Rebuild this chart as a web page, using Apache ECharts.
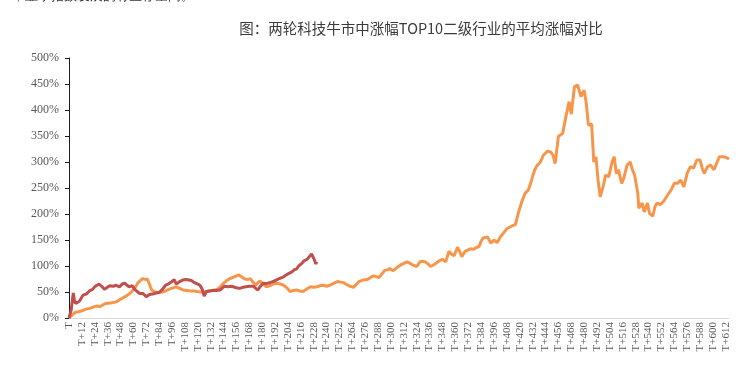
<!DOCTYPE html>
<html>
<head>
<meta charset="utf-8">
<script src="https://cdn.jsdelivr.net/npm/echarts@6/dist/echarts.min.js"></script>
<style>
html,body{margin:0;padding:0;background:#fff;}
#chart{width:741px;height:366px;}
</style>
</head>
<body>
<div id="chart"></div>
<script>
// Tick labels: T, T+1, ..., T+615 (every 12th shown)
var stepCount = 616;
var categories = [];
for (var i = 0; i < stepCount; i++) { categories.push(i === 0 ? 'T' : 'T+' + i); }

// Orange series (longer bull market): step index and average gain (%)
var orangeSteps = [0,3,6,9,12,16,20,25,29,34,39,44,48,53,56,59,62,64,67,69,71,73,75,77,80,83,87,90,94,97,100,103,106,110,114,117,119,123,128,133,138,141,144,147,150,154,158,161,164,167,169,171,174,176,178,181,184,188,192,196,200,203,206,209,212,215,218,221,225,228,231,234,237,240,243,247,250,253,256,259,262,265,268,270,274,278,281,284,287,289,292,294,297,299,302,305,309,312,315,318,320,324,327,330,332,335,337,341,345,348,351,354,357,359,362,364,366,369,371,374,377,380,382,384,386,390,393,396,399,402,404,408,411,413,416,419,422,425,428,430,432,434,436,439,442,446,449,451,453,456,460,463,466,468,471,474,477,480,482,484,487,489,491,493,495,498,500,503,506,508,510,512,515,517,520,523,525,527,530,531,534,536,539,541,544,546,548,551,554,558,561,564,567,570,573,576,579,582,585,588,590,592,595,598,601,604,606,610,613,615];
var orangeValues = [0,6,11,12,14,17,19,23,22,28,29,31,36,42,46,52,60,67,73,76,74,75,65,54,50,49,50,52,56,58,60,57,54,53,52,52,51,50,51,53,55,60,67,72,76,79,83,79,75,74,76,70,63,68,71,65,60,63,67,66,63,58,51,53,54,52,51,55,60,59,60,62,63,61,63,67,70,69,68,64,61,59,65,70,73,74,78,81,79,78,86,91,93,95,91,96,102,105,108,105,102,99,108,109,108,103,99,104,110,113,108,128,122,120,136,128,118,128,130,133,132,136,137,148,154,156,144,150,145,156,161,172,175,177,180,204,224,240,246,258,272,285,293,299,313,321,319,313,297,349,355,387,416,392,445,448,426,438,413,371,373,300,310,265,233,255,275,272,300,310,278,285,259,269,294,300,285,275,240,211,221,204,221,201,196,214,221,218,224,237,246,259,259,265,252,278,291,288,304,304,288,278,291,294,285,300,310,310,308,306];

// Red series (shorter bull market)
var redSteps = [0,2,4,5,6,8,10,13,16,19,22,24,26,28,31,33,35,38,41,44,47,50,52,54,56,59,61,63,66,69,72,75,78,81,84,87,90,93,96,98,100,103,106,109,112,114,117,120,122,124,126,128,131,134,137,141,143,145,148,151,153,156,159,162,165,168,170,172,174,176,178,181,184,187,190,193,196,199,202,205,208,210,212,214,217,219,222,224,226,227,228,229,230,231];
var redValues = [0,15,48,35,28,30,33,44,46,52,55,60,63,65,60,55,58,62,61,63,60,66,67,63,60,62,56,52,47,47,41,45,46,48,49,55,63,66,70,74,65,70,73,74,73,72,68,65,63,56,42,51,52,53,53,54,58,61,60,61,60,58,57,59,60,61,61,61,57,54,60,67,66,68,70,73,76,78,82,86,89,93,94,100,105,110,113,118,123,120,115,110,104,108];

var yTicks = {min: 0, max: 500, interval: 50};

function pairs(xs, ys) {
  var out = [];
  for (var i = 0; i < xs.length; i++) out.push([xs[i], ys[i]]);
  return out;
}

var chart = echarts.init(document.getElementById('chart'), null, {renderer: 'canvas'});
chart.setOption({
  animation: false,
  backgroundColor: '#ffffff',
  title: {
    text: '图：两轮科技牛市中涨幅TOP10二级行业的平均涨幅对比',
    left: 416, top: 16, textAlign: 'center',
    textStyle: {fontSize: 14.5, fontWeight: 'normal', color: '#3a3a3a', fontFamily: '"Noto Sans CJK SC", sans-serif'}
  },
  graphic: [{
    type: 'text', left: 0, top: -10,
    style: {text: 'IT，显示指数发展的有生存空间。', fontSize: 13, fill: '#333333', font: '13px "Noto Sans CJK SC", sans-serif'}
  }],
  grid: {left: 69, right: 12, top: 58, bottom: 48},
  xAxis: {
    type: 'category',
    data: categories,
    boundaryGap: false,
    axisLine: {lineStyle: {color: '#d9d9d9', width: 1}},
    axisTick: {show: false},
    axisLabel: {
      interval: 11, rotate: 90, margin: 4,
      fontSize: 11, color: '#595959', fontFamily: '"Liberation Serif", "DejaVu Serif", serif'
    },
    splitLine: {show: false}
  },
  yAxis: {
    type: 'value',
    min: yTicks.min, max: yTicks.max, interval: yTicks.interval,
    axisLine: {show: true, lineStyle: {color: '#1a1a1a', width: 1}},
    axisTick: {show: true, length: 4, lineStyle: {color: '#1a1a1a'}},
    axisLabel: {
      formatter: '{value}%', margin: 10,
      fontSize: 12, color: '#595959', fontFamily: '"Liberation Serif", "DejaVu Serif", serif'
    },
    splitLine: {show: false}
  },
  series: [
    {
      type: 'line', name: 'orange', data: pairs(orangeSteps, orangeValues),
      showSymbol: false, symbol: 'none',
      lineStyle: {color: '#F7964A', width: 3}, z: 2
    },
    {
      type: 'line', name: 'red', data: pairs(redSteps, redValues),
      showSymbol: false, symbol: 'none',
      lineStyle: {color: '#C0504D', width: 3}, z: 3
    }
  ]
});
</script>
</body>
</html>
